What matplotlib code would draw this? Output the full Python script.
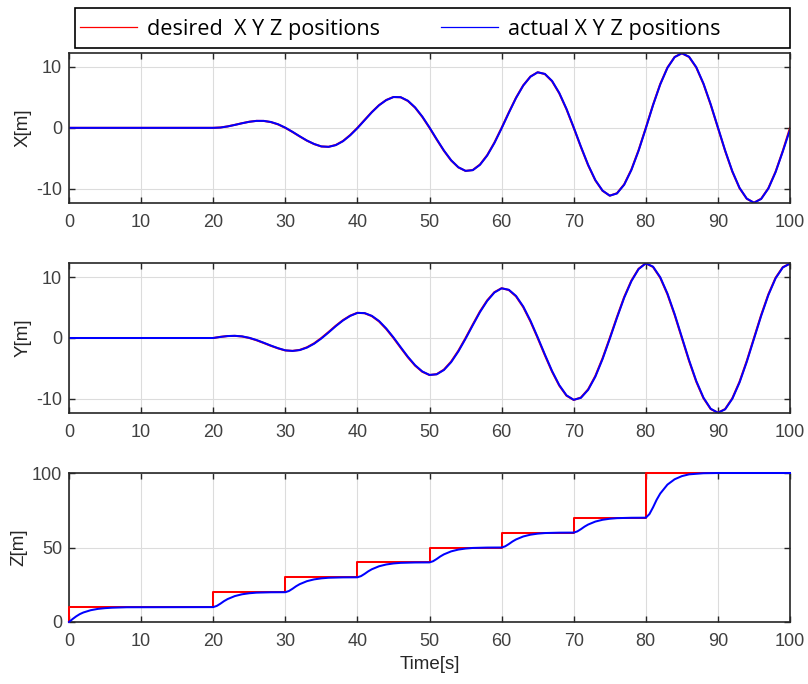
import matplotlib.pyplot as plt
from matplotlib.patches import Rectangle
from matplotlib.lines import Line2D

# --------------------------------------------------------------
# desired vs actual X / Y / Z positions of the tracked vehicle
# --------------------------------------------------------------

# time base for X and Y (flat at zero until the manoeuvre starts at 20 s)
time_xy = [0] + list(range(20, 101))

x_desired = [0,
             0, 0.06, 0.24, 0.49, 0.76, 1.00, 1.14, 1.13, 0.94, 0.56,
             0, -0.68, -1.41, -2.10, -2.66, -3.05, -3.10, -2.80, -2.15, -1.17,
             0, 1.30, 2.59, 3.72, 4.56, 5.05, 5.00, 4.40, 3.30, 1.79,
             0, -1.92, -3.76, -5.34, -6.47, -7.05, -6.90, -6.00, -4.47, -2.41,
             0, 2.53, 4.94, 6.96, 8.40, 9.10, 8.80, 7.62, 5.64, 3.03,
             0, -3.15, -6.12, -8.60, -10.30, -11.10, -10.70, -9.25, -6.82, -3.65,
             0, 3.77, 7.17, 9.87, 11.60, 12.20, 11.60, 9.87, 7.17, 3.77,
             0, -3.77, -7.17, -9.87, -11.60, -12.25, -11.60, -9.87, -7.17, -3.77,
             0]
x_actual = [0,
            0, 0.05, 0.23, 0.48, 0.75, 0.99, 1.14, 1.14, 0.96, 0.59,
            0.03, -0.65, -1.38, -2.08, -2.64, -3.04, -3.11, -2.83, -2.19, -1.22,
            -0.05, 1.25, 2.55, 3.69, 4.54, 5.04, 5.02, 4.44, 3.35, 1.85,
            0.06, -1.86, -3.71, -5.30, -6.45, -7.04, -6.93, -6.05, -4.53, -2.49,
            -0.08, 2.45, 4.88, 6.92, 8.37, 9.09, 8.83, 7.68, 5.71, 3.11,
            0.08, -3.07, -6.05, -8.55, -10.27, -11.10, -10.74, -9.31, -6.90, -3.74,
            -0.09, 3.69, 7.10, 9.82, 11.58, 12.21, 11.64, 9.93, 7.25, 3.86,
            0.09, -3.69, -7.10, -9.82, -11.58, -12.26, -11.64, -9.93, -7.25, -3.86,
            -0.30]

y_desired = [0,
             0, 0.19, 0.32, 0.35, 0.25, 0, -0.37, -0.82, -1.29, -1.71,
             -2.05, -2.12, -1.96, -1.53, -0.87, 0, 0.99, 2.02, 2.95, 3.68,
             4.15, 4.08, 3.60, 2.72, 1.48, 0, -1.61, -3.18, -4.55, -5.56,
             -6.10, -5.95, -5.20, -3.88, -2.10, 0, 2.22, 4.38, 6.20, 7.55,
             8.20, 7.90, 6.85, 5.08, 2.72, 0, -2.84, -5.55, -7.85, -9.50,
             -10.20, -9.80, -8.45, -6.25, -3.34, 0, 3.46, 6.75, 9.45, 11.40,
             12.30, 11.70, 9.92, 7.20, 3.79, 0, -3.79, -7.20, -9.92, -11.70,
             -12.30, -11.70, -9.92, -7.20, -3.79, 0, 3.79, 7.20, 9.92, 11.66,
             12.25]
y_actual = [0,
            0, 0.18, 0.32, 0.36, 0.27, 0.03, -0.33, -0.78, -1.25, -1.68,
            -2.03, -2.13, -1.99, -1.58, -0.94, -0.08, 0.91, 1.95, 2.89, 3.64,
            4.13, 4.10, 3.65, 2.80, 1.57, 0.10, -1.51, -3.09, -4.48, -5.51,
            -6.08, -5.98, -5.27, -3.98, -2.21, -0.12, 2.10, 4.27, 6.11, 7.49,
            8.18, 7.94, 6.93, 5.19, 2.85, 0.13, -2.71, -5.44, -7.76, -9.44,
            -10.18, -9.85, -8.54, -6.37, -3.48, -0.14, 3.33, 6.63, 9.36, 11.35,
            12.29, 11.75, 10.01, 7.32, 3.93, 0.14, -3.65, -7.08, -9.83, -11.65,
            -12.31, -11.75, -10.01, -7.32, -3.93, -0.14, 3.65, 7.08, 9.83, 11.62,
            12.25]

# Z set-point (step profile) and measured response
z_step_time = [0, 0, 20, 30, 40, 50, 60, 70, 80, 100]
z_desired = [0, 10, 20, 30, 40, 50, 60, 70, 100, 100]

z_time = [0, 0.5, 1, 1.5, 2, 3, 4, 5, 6, 8,
          20, 20.5, 21, 21.5, 22, 23, 24, 25, 26, 28,
          30, 30.5, 31, 31.5, 32, 33, 34, 35, 36, 38,
          40, 40.5, 41, 41.5, 42, 43, 44, 45, 46, 48,
          50, 50.5, 51, 51.5, 52, 53, 54, 55, 56, 58,
          60, 60.5, 61, 61.5, 62, 63, 64, 65, 66, 68,
          70, 70.5, 71, 71.5, 72, 73, 74, 75, 76, 78,
          80, 80.5, 81, 81.5, 82, 83, 84, 85, 86, 88,
          90, 100]
z_actual = [0, 2.0, 3.8, 5.3, 6.4, 7.9, 8.8, 9.3, 9.6, 9.9,
            10, 10.8, 12.3, 14.0, 15.4, 17.4, 18.6, 19.3, 19.7, 19.95,
            20, 20.8, 22.3, 24.0, 25.4, 27.4, 28.6, 29.3, 29.7, 29.95,
            30, 30.8, 32.3, 34.0, 35.4, 37.4, 38.6, 39.3, 39.7, 39.95,
            40, 40.8, 42.3, 44.0, 45.4, 47.4, 48.6, 49.3, 49.7, 49.95,
            50, 50.8, 52.3, 54.0, 55.4, 57.4, 58.6, 59.3, 59.7, 59.95,
            60, 60.8, 62.3, 64.0, 65.4, 67.4, 68.6, 69.3, 69.7, 69.95,
            70, 72.4, 76.9, 82.0, 86.2, 92.2, 95.8, 97.9, 99.1, 99.85,
            100, 100]

W, H = 808, 684
RED = '#ff0000'
BLUE = '#0000ff'
FRAME = '#262626'
TICKC = '#404040'
GRIDC = '#dcdcdc'
LW = 1.45

plt.rcParams['font.family'] = ['Liberation Sans', 'DejaVu Sans']
plt.rcParams['axes.unicode_minus'] = False


def style_axes(ax, ylim, yticks, ylabel):
    ax.set_xlim(0, 100)
    ax.set_ylim(*ylim)
    ax.set_xticks(range(0, 101, 10))
    ax.set_yticks(yticks)
    ax.grid(True, color=GRIDC, linewidth=0.8)
    ax.set_axisbelow(True)
    ax.tick_params(direction='in', length=4, width=1.0, color=FRAME,
                   top=True, right=True, labelcolor=TICKC, labelsize=13)
    ax.tick_params(axis='x', pad=8)
    ax.tick_params(axis='y', pad=5)
    for s in ax.spines.values():
        s.set_color(FRAME)
        s.set_linewidth(1.2)
    ax.set_ylabel(ylabel, color=FRAME, fontsize=13.5, labelpad=3)


fig = plt.figure(figsize=(W / 100, H / 100), dpi=100)


def px_axes(top, bottom, left=69, right=790):
    return fig.add_axes([left / W, 1 - bottom / H, (right - left) / W, (bottom - top) / H])


ax1 = px_axes(53, 203)
ax2 = px_axes(263, 413)
ax3 = px_axes(473, 622)

ax1.plot(time_xy, x_desired, color=RED, linewidth=LW)
ax1.plot(time_xy, x_actual, color=BLUE, linewidth=LW)
style_axes(ax1, (-12.3, 12.25), [-10, 0, 10], 'X[m]')

ax2.plot(time_xy, y_desired, color=RED, linewidth=LW)
ax2.plot(time_xy, y_actual, color=BLUE, linewidth=LW)
style_axes(ax2, (-12.35, 12.35), [-10, 0, 10], 'Y[m]')

ax3.plot(z_step_time, z_desired, color=RED, linewidth=LW, drawstyle='steps-post',
         zorder=3, clip_on=False)
ax3.plot(z_time, z_actual, color=BLUE, linewidth=LW, zorder=3.1, clip_on=False)
style_axes(ax3, (0, 100), [0, 50, 100], 'Z[m]')
ax3.set_xlabel('Time[s]', color=FRAME, fontsize=13.5, labelpad=4)

# legend box across the top (drawn by hand to match the wide frame)
fig.patches.append(Rectangle((75 / W, 1 - 48 / H), (790 - 75) / W, 40 / H,
                             transform=fig.transFigure, fill=False,
                             edgecolor='black', linewidth=1.2))
handles = [Line2D([], [], color=RED, linewidth=0.9),
           Line2D([], [], color=BLUE, linewidth=0.9)]
fig.legend(handles, ['desired  X Y Z positions', 'actual X Y Z positions'],
           loc='center left', bbox_to_anchor=(80 / W, 1 - 29 / H),
           ncol=2, frameon=False, handlelength=2.65, handletextpad=0.45,
           columnspacing=2.8, borderaxespad=0, borderpad=0,
           prop={'family': ['Open Sans', 'DejaVu Sans'], 'size': 15.6})

fig.savefig('out.png', dpi=100)
